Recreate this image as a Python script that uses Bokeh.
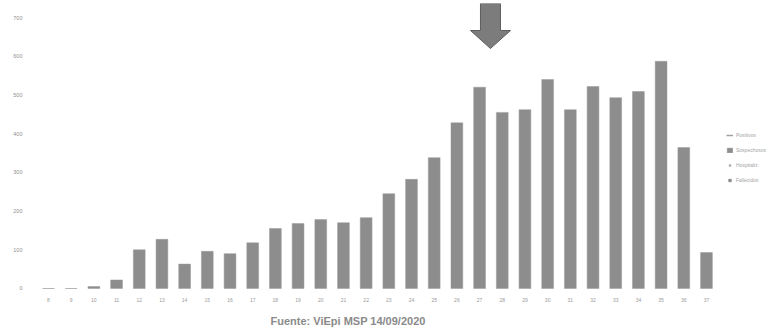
from bokeh.plotting import figure
from bokeh.models import (Range1d, FixedTicker, Legend, LegendItem, Title,
                          ColumnDataSource)
from bokeh.embed import file_html
from bokeh.resources import INLINE

# --- data ---
weeks = [str(w) for w in range(8, 38)]
cases = [0, 0, 5, 22, 100, 127, 63, 96, 90, 118, 155, 168, 178, 170, 183,
         245, 282, 338, 428, 520, 455, 462, 540, 462, 522, 493, 509, 587,
         364, 93]
y_ticks = [0, 100, 200, 300, 400, 500, 600, 700]
legend_labels = ["Positivos", "Sospechosos", "Hospitaliz.", "Fallecidos"]
arrow_week = "27"
source_text = "Fuente: ViEpi MSP 14/09/2020"

idx = list(range(len(weeks)))
src = ColumnDataSource(dict(x=idx, top=cases))

Y_END = 736.4
p = figure(width=772, height=335, output_backend="svg", toolbar_location=None,
           x_range=Range1d(-0.705, 31.91), y_range=Range1d(-5.2, Y_END),
           min_border_left=32, min_border_right=0, min_border_top=3,
           min_border_bottom=45)
p.outline_line_color = None
p.grid.visible = False
p.background_fill_color = "white"

bars = p.vbar(x="x", top="top", width=0.52, source=src,
              fill_color="#8d8d8d", line_color="#9a9a9a", line_width=0.5)

# arrow pointing at the chosen week
ai = weeks.index(arrow_week) + 0.48
px_x = 1 / 22.69
px_y = 1 / 0.387
ax = [ai - 10 * px_x, ai + 10 * px_x, ai + 10 * px_x, ai + 20 * px_x, ai,
      ai - 20 * px_x, ai - 10 * px_x]
body_y = Y_END - 27 * px_y
tip_y = Y_END - 45 * px_y
ay = [Y_END, Y_END, body_y, body_y, tip_y, body_y, body_y]
p.patch(ax, ay, fill_color="#7c7c7c", line_color="#5e5e5e", line_width=1)

# axes
p.xaxis.ticker = FixedTicker(ticks=idx)
p.xaxis.major_label_overrides = {i: w for i, w in zip(idx, weeks)}
p.xaxis.axis_line_color = None
p.xaxis.major_tick_line_color = None
p.xaxis.minor_tick_line_color = None
p.xaxis.major_label_text_font_size = "5px"
p.xaxis.major_label_text_color = "#9a9a9a"
p.xaxis.major_label_standoff = 1

p.yaxis.ticker = FixedTicker(ticks=y_ticks)
p.yaxis.axis_line_color = None
p.yaxis.major_tick_line_color = None
p.yaxis.minor_tick_line_color = None
p.yaxis.major_label_text_font_size = "5.5px"
p.yaxis.major_label_text_color = "#8f8f8f"
p.yaxis.major_label_standoff = 4

# legend (placeholder renderers stand in for the other series)
nan = float("nan")
r_line = p.line(x=[0, 1], y=[nan, nan], line_color="#a0a0a0", line_width=1.5)
r_dia = p.scatter(x=[0], y=[nan], marker="diamond", size=6, color="#a0a0a0")
r_sq = p.scatter(x=[0], y=[nan], marker="square", size=5, color="#8d8d8d")
legend = Legend(items=[
    LegendItem(label=legend_labels[0], renderers=[r_line]),
    LegendItem(label=legend_labels[1], renderers=[bars]),
    LegendItem(label=legend_labels[2], renderers=[r_dia]),
    LegendItem(label=legend_labels[3], renderers=[r_sq]),
], location=(694, 107))
legend.label_text_font_size = "5px"
legend.label_text_color = "#a5a5a5"
legend.glyph_width = 7
legend.glyph_height = 6
legend.label_height = 6
legend.spacing = 9
legend.padding = 2
legend.label_standoff = 3
legend.border_line_color = None
legend.background_fill_alpha = 0
p.add_layout(legend)

p.add_layout(Title(text=source_text, text_font_size="11px",
                   text_font_style="bold", text_color="#8a8a8a",
                   align="left", offset=238, standoff=17), "below")

open("out.html", "w").write(file_html(p, INLINE))
